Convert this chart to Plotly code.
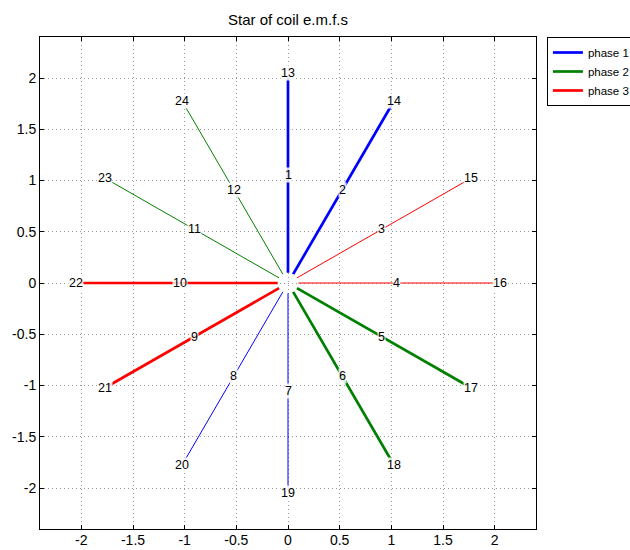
import numpy as np
import plotly.graph_objects as go

# Coil phasors: number, electrical angle (deg) and magnitude
coil_numbers = list(range(1, 25))
coil_angles = [90, 60, 30, 0, -30, -60, -90, -120, -150, 180, 150, 120,
               90, 60, 30, 0, -30, -60, -90, -120, -150, 180, 150, 120]
coil_radius = [1] * 12 + [2] * 12

# Phase groups: coils reached by thick (positive) and thin (reversed) lines
phase_names = ["phase 1", "phase 2", "phase 3"]
phase_colors = ["#0000ff", "#008000", "#ff0000"]
phase_thick = [[13, 14], [17, 18], [21, 22]]
phase_thin = [[19, 20], [23, 24], [15, 16]]

x_ticks = [-2, -1.5, -1, -0.5, 0, 0.5, 1, 1.5, 2]
x_tick_text = ["-2", "-1.5", "-1", "-0.5", "0", "0.5", "1", "1.5", "2"]
y_ticks = [-2, -1.5, -1, -0.5, 0, 0.5, 1, 1.5, 2]
y_tick_text = ["-2", "-1.5", "-1", "-0.5", "0", "0.5", "1", "1.5", "2"]

INNER = 0.1         # gap left around the star centre
LABEL_OFFSET = 0.05  # labels sit just beyond the phasor tip
FONT = "Liberation Sans, Arial, sans-serif"


def polar(n, extra=0.0):
    a = np.deg2rad(coil_angles[n - 1])
    r = coil_radius[n - 1] + extra
    return r * np.cos(a), r * np.sin(a), a


fig = go.Figure()

for name, color, thick, thin in zip(phase_names, phase_colors, phase_thick, phase_thin):
    for group, width, show in ((thick, 2.7, True), (thin, 1.0, False)):
        for i, n in enumerate(group):
            x1, y1, a = polar(n)
            fig.add_trace(go.Scatter(
                x=[INNER * np.cos(a), x1], y=[INNER * np.sin(a), y1],
                mode="lines", line=dict(color=color, width=width),
                name=name, legendgroup=name,
                showlegend=show and i == 0, hoverinfo="skip"))

for n in coil_numbers:
    xl, yl, _ = polar(n, LABEL_OFFSET)
    fig.add_annotation(x=xl, y=yl, text=str(n), showarrow=False,
                       font=dict(family=FONT, size=12.5, color="black"),
                       bgcolor="rgba(255,255,255,0.85)", borderpad=0,
                       xanchor="center", yanchor="middle")

axis_style = dict(
    showline=True, linecolor="black", linewidth=1, mirror="allticks",
    ticks="inside", ticklen=4, tickcolor="black", tickwidth=1,
    showgrid=True, gridcolor="#9a9a9a", griddash="1px,3px", gridwidth=1,
    zeroline=False, tickfont=dict(family=FONT, size=14, color="black"),
)

fig.update_layout(
    width=630, height=550,
    margin=dict(l=40, r=94, t=37, b=21, autoexpand=False),
    paper_bgcolor="white", plot_bgcolor="white",
    font=dict(family=FONT, color="black"),
    title=dict(text="Star of coil e.m.f.s", x=(288 / 630), xanchor="center",
               y=1 - 20 / 550, yanchor="middle", font=dict(family=FONT, size=15, color="black")),
    xaxis=dict(range=[-2.4, 2.4], tickvals=x_ticks, ticktext=x_tick_text,
               ticklabelstandoff=-2, **axis_style),
    yaxis=dict(range=[-2.4, 2.4], tickvals=y_ticks, ticktext=y_tick_text, **axis_style),
    legend=dict(x=1.022, y=1, xanchor="left", yanchor="top",
                bordercolor="black", borderwidth=1, bgcolor="white",
                font=dict(family=FONT, size=11.5), tracegroupgap=0, itemwidth=30),
    showlegend=True,
)

fig.write_html("out.html")
